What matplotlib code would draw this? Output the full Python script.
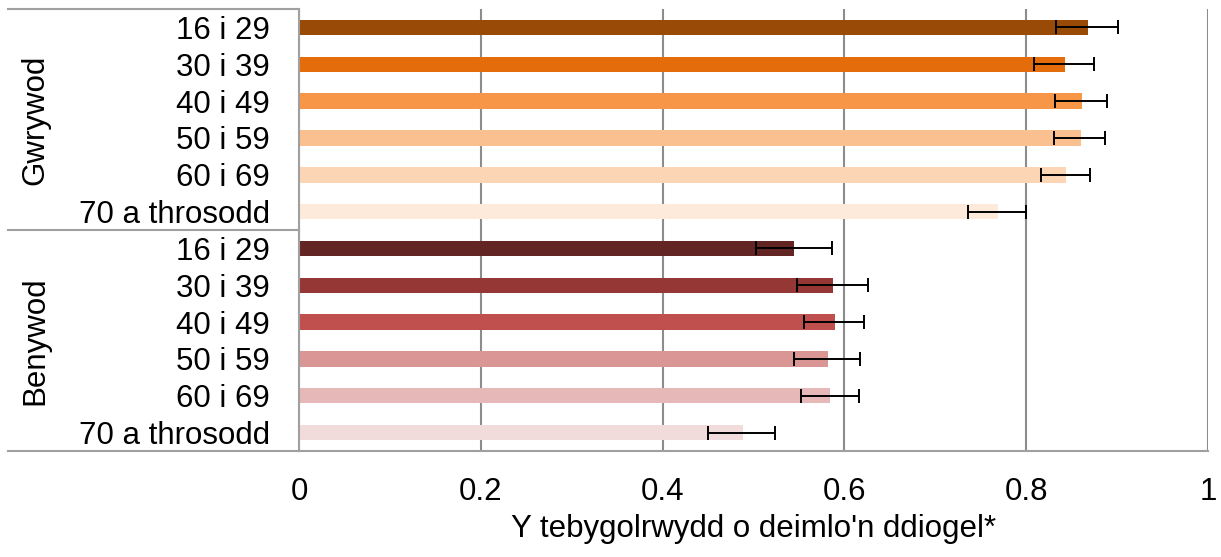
import matplotlib.pyplot as plt
from matplotlib.lines import Line2D

plt.rcParams['font.family'] = ['Liberation Sans', 'DejaVu Sans']

# Data
groups = ['Gwrywod', 'Benywod']
ages = ['16 i 29', '30 i 39', '40 i 49', '50 i 59', '60 i 69', '70 a throsodd']
male_vals = [0.868, 0.843, 0.861, 0.860, 0.844, 0.769]
male_lo = [0.833, 0.808, 0.832, 0.831, 0.816, 0.736]
male_hi = [0.901, 0.875, 0.889, 0.887, 0.870, 0.800]
female_vals = [0.544, 0.587, 0.590, 0.582, 0.584, 0.488]
female_lo = [0.503, 0.548, 0.556, 0.545, 0.552, 0.450]
female_hi = [0.586, 0.626, 0.622, 0.617, 0.616, 0.524]
male_colors = ['#994A07', '#E46C0A', '#F79646', '#FAC090', '#FCD5B5', '#FDEADA']
female_colors = ['#632523', '#953735', '#C0504D', '#D99694', '#E6B9B8', '#F2DCDB']
xlabel = "Y tebygolrwydd o deimlo'n ddiogel*"

vals = male_vals + female_vals
lo = male_lo + female_lo
hi = male_hi + female_hi
colors = male_colors + female_colors
labels = ages + ages
n = len(vals)
ypos = list(range(n))

fig = plt.figure(figsize=(12.21, 5.57), dpi=100)
ax = fig.add_axes([0.2449, 0.1903, 0.7445, 0.7935])

ax.barh(ypos, vals, height=0.42, color=colors, zorder=2)
xerr = [[v - l for v, l in zip(vals, lo)], [h - v for v, h in zip(vals, hi)]]
ax.errorbar(vals, ypos, xerr=xerr, fmt='none', ecolor='black',
            elinewidth=1.4, capsize=5, capthick=1.4, zorder=3)

ax.set_ylim(n - 0.5, -0.5)
ax.set_xlim(0, 1)
ax.set_xticks([0, 0.2, 0.4, 0.6, 0.8, 1.0])
ax.set_xticklabels(['0', '0.2', '0.4', '0.6', '0.8', '1'])
ax.set_yticks(ypos)
ax.set_yticklabels(labels)
ax.tick_params(axis='both', length=0, labelsize=22.5)
ax.tick_params(axis='y', pad=21)
ax.tick_params(axis='x', pad=19)
ax.set_xlabel(xlabel, fontsize=22.5, labelpad=5)

ax.grid(axis='x', color='#8C8C8C', linewidth=1.5, zorder=0)
ax.set_axisbelow(True)
for s in ['top', 'right']:
    ax.spines[s].set_visible(False)
ax.spines['left'].set_color('#A0A0A0')
ax.spines['left'].set_linewidth(1.5)
ax.spines['bottom'].set_color('#A0A0A0')
ax.spines['bottom'].set_linewidth(1.5)

# group separators on the left
xl = -0.32
for yy in [-0.5, 5.5, 11.5]:
    ax.add_line(Line2D([xl, 0], [yy, yy], transform=ax.get_yaxis_transform(),
                       color='#A0A0A0', linewidth=1.5, clip_on=False))

# group labels
for i, g in enumerate(groups):
    ax.text(-0.290, 2.5 + 6 * i, g, rotation=90, ha='center', va='center',
            fontsize=22.5, transform=ax.get_yaxis_transform())

fig.savefig('out.png', dpi=100, facecolor='white')
